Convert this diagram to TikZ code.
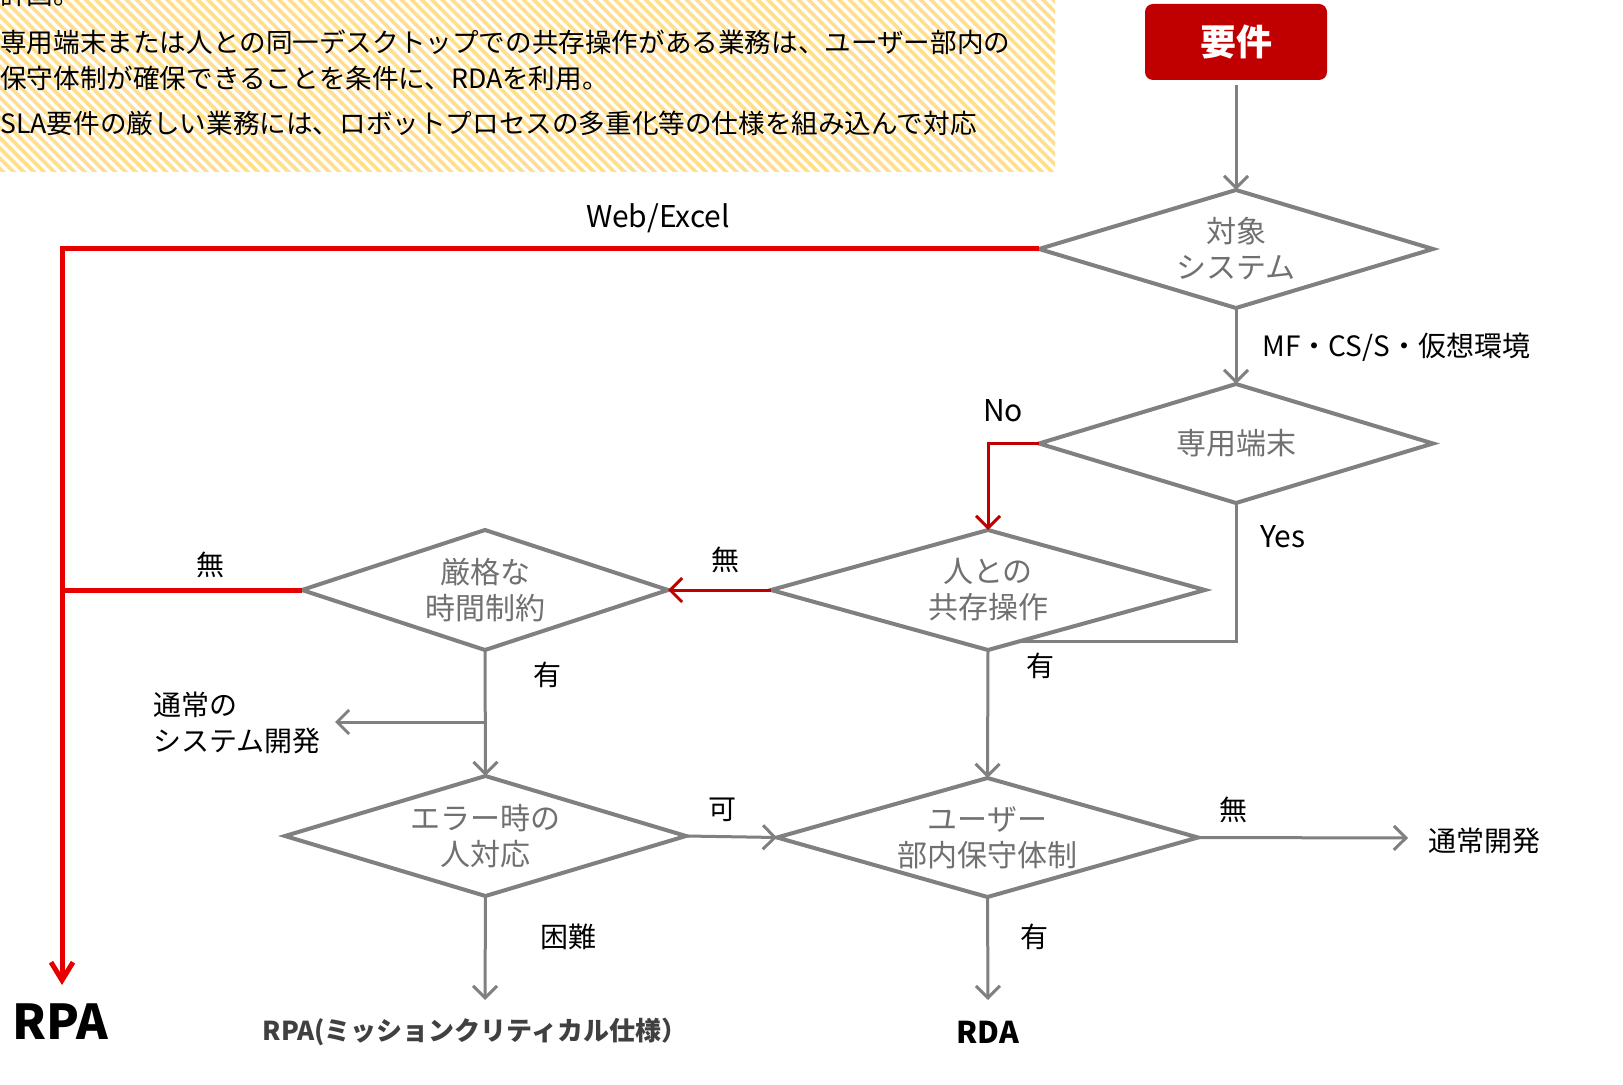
\documentclass[tikz,border=0pt]{standalone}
\usepackage{fontspec}
\setmainfont{Noto Sans CJK JP}
\usepackage{tikz}
\usetikzlibrary{arrows.meta,patterns.meta,calc}
\usepackage{xcolor}
\definecolor{reqred}{RGB}{192,0,0}
\definecolor{flowred}{RGB}{230,0,0}
\definecolor{flowgray}{RGB}{128,128,128}
\definecolor{dectext}{RGB}{112,112,112}
\definecolor{endgray}{RGB}{64,64,64}
\definecolor{hatchyellow}{RGB}{255,222,140}
\tikzstyle{decision} = [rectangle, inner sep=0pt, outer sep=0pt, align=center, text=dectext, font=\fontsize{15}{18}\selectfont]
\tikzstyle{dline} = [line width=2pt, draw=flowgray, line join=miter]
\tikzstyle{garrow} = [line width=1.5pt, draw=flowgray, -{Straight Barb[length=6pt,width=12pt]}]
\tikzstyle{gline} = [line width=1.5pt, draw=flowgray]
\tikzstyle{rline} = [line width=2.5pt, draw=flowred, -{Straight Barb[length=9pt,width=11pt]}]
\tikzstyle{drarrow} = [line width=1.5pt, draw=reqred, -{Straight Barb[length=6pt,width=12pt]}]
\tikzstyle{lbl} = [inner sep=0pt, font=\fontsize{14}{17}\selectfont]
\tikzstyle{note} = [inner sep=0pt, anchor=west, font=\fontsize{13.3}{16}\selectfont]

\begin{document}
\begin{tikzpicture}[x=0.5pt, y=-0.5pt]
\useasboundingbox (0,0) rectangle (1623,1085);
\clip (0,0) rectangle (1623,1085);
\fill[white] (0,0) rectangle (1623,1085);

% hatched note
\pattern[pattern={Lines[angle=-45,distance=3.6pt,line width=1.8pt]}, pattern color=hatchyellow] (0,-20) rectangle (1055,172);
\node[note] (note0) at (0,-6) {計画。};
\node[note] (note1) at (0,42) {専用端末または人との同一デスクトップでの共存操作がある業務は、ユーザー部内の};
\node[note] (note2) at (0,78) {保守体制が確保できることを条件に、RDAを利用。};
\node[note] (note3) at (0,123) {SLA要件の厳しい業務には、ロボットプロセスの多重化等の仕様を組み込んで対応};

% start and decisions
\node[fill=reqred, rounded corners=4pt, minimum width=91pt, minimum height=38pt, text=white, font=\fontsize{18}{20}\selectfont\bfseries] (req) at (1236,42) {要件};
\node[decision, minimum width=197pt, minimum height=59pt] (sys) at (1236,249) {対象\\システム};
\node[decision, minimum width=197pt, minimum height=59.5pt] (dedi) at (1236,443.5) {専用端末};
\node[decision, minimum width=217pt, minimum height=60pt] (coex) at (988,590) {人との\\共存操作};
\node[decision, minimum width=183pt, minimum height=60pt] (strict) at (485,590) {厳格な\\時間制約};
\node[decision, minimum width=200.5pt, minimum height=60pt] (err) at (485.5,836) {エラー時の\\人対応};
\node[decision, minimum width=210.5pt, minimum height=59.5pt] (user) at (987.5,837.5) {ユーザー\\部内保守体制};
\foreach \d in {sys,dedi,coex,strict,err,user}
  \draw[dline] (\d.north) -- (\d.east) -- (\d.south) -- (\d.west) -- cycle;

% results
\node[lbl, font=\fontsize{24}{26}\selectfont\bfseries] (rpa) at (60,1022) {RPA};
\node[lbl, text=endgray, font=\fontsize{13}{15}\selectfont\bfseries] (rpamc) at (475,1032) {RPA(ミッションクリティカル仕様）};
\node[lbl, font=\fontsize{15}{17}\selectfont\bfseries] (rda) at (988,1032) {RDA};
\node[lbl, anchor=west, align=left, font=\fontsize{14}{18}\selectfont] (sysdev) at (153,723) {通常の\\システム開発};
\node[lbl, anchor=west] (normdev) at (1428,841) {通常開発};

\coordinate (rpain) at (62,985);
\coordinate (sysdevin) at (335,722);
\coordinate (fork) at (485,722);
\coordinate (normin) at (1408,838);
\coordinate (rpamcin) at (485,1000);
\coordinate (rdain) at (988,1000);
\coordinate (yesend) at ($(coex.south)!0.15!(coex.east)$);

% connectors
\draw[garrow, shorten <=2.5pt] (req.south) -- (sys.north);
\draw[rline] (sys.west) -| (rpain);
\draw[line width=2.5pt, draw=flowred] (strict.west) -- (strict.west -| rpain);
\draw[garrow] (sys.south) -- (dedi.north);
\draw[drarrow] (dedi.west) -| (coex.north);
\draw[gline] (dedi.south) |- (yesend);
\draw[drarrow] (coex.west) -- (strict.east);
\draw[garrow] (coex.south) -- (user.north);
\draw[garrow] (strict.south) -- (err.north);
\draw[garrow] (fork) -- (sysdevin);
\draw[garrow] (err.east) -- (user.west);
\draw[garrow] (user.east) -- (normin);
\draw[garrow] (err.south) -- (rpamcin);
\draw[garrow] (user.south) -- (rdain);

% labels
\node[lbl, font=\fontsize{15}{17}\selectfont] (lweb) at (658,218) {Web/Excel};
\node[lbl] (lnostrict) at (210,565) {無};
\node[lbl, anchor=west] (lmf) at (1262,347) {MF・CS/S・仮想環境};
\node[lbl, font=\fontsize{15}{17}\selectfont] (lno) at (1003,411) {No};
\node[lbl, font=\fontsize{15}{17}\selectfont] (lyes) at (1283,537) {Yes};
\node[lbl] (lnocoex) at (725,560) {無};
\node[lbl] (lyescoex) at (1040,666) {有};
\node[lbl] (lyesstrict) at (547,675) {有};
\node[lbl] (lok) at (722,810) {可};
\node[lbl] (lnouser) at (1233,810) {無};
\node[lbl] (lhard) at (568,937) {困難};
\node[lbl] (lyesuser) at (1034,937) {有};
\end{tikzpicture}
\end{document}
